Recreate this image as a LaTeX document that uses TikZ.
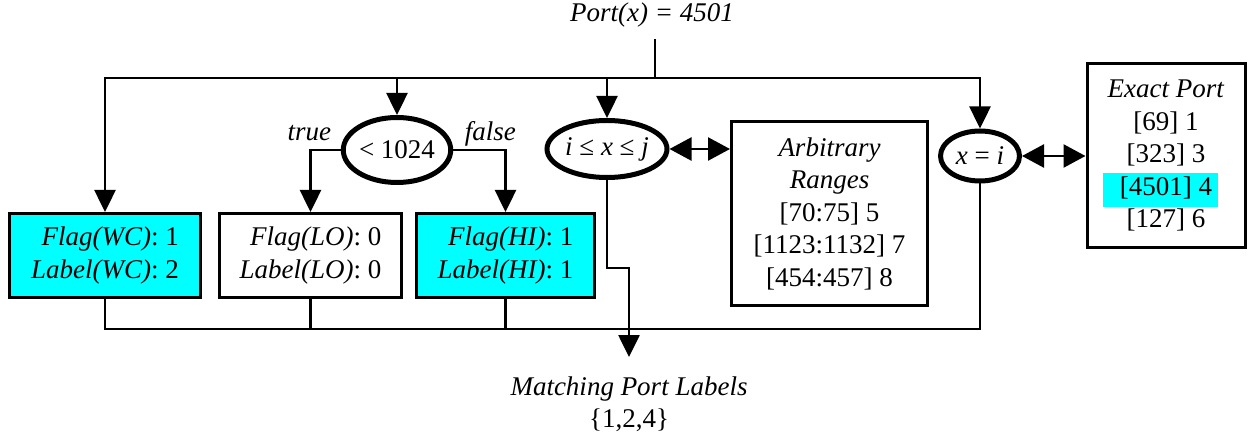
\documentclass[tikz,border=0pt]{standalone}
\usepackage{fontspec}
\setmainfont{Liberation Serif}
\usetikzlibrary{arrows.meta,shapes.geometric}
\definecolor{aqua}{RGB}{0,255,255}

\begin{document}
\begin{tikzpicture}[x=1pt,y=-1pt,font=\fontsize{27}{32.5}\selectfont,line width=2.5pt,
    arr/.style={-{Triangle[length=22pt,width=21pt]}},
    dbl/.style={{Triangle[length=22pt,width=23pt]}-{Triangle[length=22pt,width=23pt]}},
    test/.style={ellipse,draw,line width=5pt,inner sep=0pt},
    flagbox/.style={draw,line width=3pt,align=right,minimum height=84pt,inner sep=0pt},
    listbox/.style={draw,line width=3pt,align=center,minimum height=184pt,inner sep=0pt}]
  \useasboundingbox (0,0) rectangle (1248,435);
  \node[inner xsep=0pt,inner ysep=11pt] (port) at (652,15) {\textit{Port(x) = 4501}};
  \coordinate (top) at (655,78);
  \coordinate (bot) at (629,329);
  \coordinate (jog) at (629,268);
  \node[test,minimum width=93pt,minimum height=65pt] (lt) at (397,150) {< 1024};
  \node[test,minimum width=120pt,minimum height=57pt] (rng) at (607,149) {\textit{i} ≤ \textit{x} ≤ \textit{j}};
  \node[test,minimum width=79pt,minimum height=50pt] (eq) at (980,156) {\textit{x} = \textit{i}};
  \node[flagbox,fill=aqua,minimum width=191pt] (wc) at (105,255.5) {\textit{Flag(WC)}: 1\\\textit{Label(WC)}: 2};
  \node[flagbox,minimum width=182pt] (lo) at (310.5,255.5) {\textit{Flag(LO)}: 0\\\textit{Label(LO)}: 0};
  \node[flagbox,fill=aqua,minimum width=178pt] (hi) at (505.5,255.5) {\textit{Flag(HI)}: 1\\\textit{Label(HI)}: 1};
  \node[listbox,minimum width=196pt] (arb) at (829.5,213.5) {\textit{Arbitrary}\\\textit{Ranges}\\{[70:75] 5}\\{[1123:1132] 7}\\{[454:457] 8}};
  \fill[aqua] (1103,173) rectangle (1218,207);
  \node[listbox,minimum width=158pt] (exact) at (1166,155.5) {\textit{Exact Port}\\{[69] 1}\\{[323] 3}\\{[4501] 4}\\{[127] 6}};
  \node[align=center,inner xsep=0pt,inner ysep=18pt] (match) at (629,404) {\textit{Matching Port Labels}\\\{1,2,4\}};
  \node[anchor=base east] at ([xshift=-5pt,yshift=9pt]lt.west) {\textit{true}};
  \node[anchor=base west] at ([xshift=7pt,yshift=9pt]lt.east) {\textit{false}};
  \draw (port.south -| top) -- (top);
  \draw[arr] (top) -| (wc.north);
  \draw[arr] (top) -| (lt.north);
  \draw[arr] (top) -| (rng.north);
  \draw[arr] (top) -| (eq.north);
  \draw[arr] (lt.west) -| (lo.north);
  \draw[arr] (lt.east) -| (hi.north);
  \draw[dbl] (rng.east) -- (rng.east -| arb.west);
  \draw[dbl] (eq.east) -- (eq.east -| exact.west);
  \draw (wc.south) |- (bot);
  \draw (eq.south) |- (bot);
  \draw (lo.south) -- (lo.south |- bot);
  \draw (hi.south) -- (hi.south |- bot);
  \draw[arr] (rng.south) |- (jog) -- (match.north);
\end{tikzpicture}
\end{document}
